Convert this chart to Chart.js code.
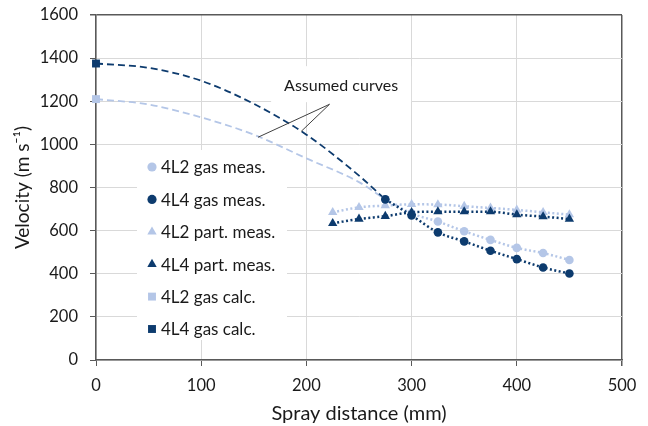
<!DOCTYPE html>
<html>
<head>
<meta charset="utf-8">
<script src="https://cdn.jsdelivr.net/npm/chart.js@4/dist/chart.umd.min.js"></script>
<style>
  html, body { margin: 0; padding: 0; background: #fff; }
  #wrap { width: 648px; height: 426px; }
</style>
</head>
<body>
<div id="wrap"><canvas id="chart" width="648" height="426"></canvas></div>
<script>
// spray distance (mm) and velocities (m/s)
var distCalc = [0];
var gasCalc4L2 = [1210];
var gasCalc4L4 = [1375];

var distAssumed = [0, 50, 100, 150, 200, 250, 275];
var assumed4L2 = [1210, 1185, 1125, 1045, 935, 825, 745];
var assumed4L4 = [1375, 1355, 1295, 1188, 1045, 855, 745];

var distGas = [275, 300, 325, 350, 375, 400, 425, 450];
var gasMeas4L2 = [745, 680, 642, 597, 557, 520, 496, 464];
var gasMeas4L4 = [745, 670, 592, 550, 507, 468, 429, 401];

var distPart = [225, 250, 275, 300, 325, 350, 375, 400, 425, 450];
var partMeas4L2 = [685, 708, 716, 722, 721, 713, 705, 696, 685, 674];
var partMeas4L4 = [634, 654, 667, 685, 688, 688, 688, 674, 665, 654];

var xTicks = [0, 100, 200, 300, 400, 500];
var yTicks = [0, 200, 400, 600, 800, 1000, 1200, 1400, 1600];

var light = '#B4C6E7',
    dark = '#0D3B6E',
    axisColor = '#595959',
    gridColor = '#D9D9D9',
    textColor = '#1a1a1a',
    fontFamily = 'Lato, "Open Sans", sans-serif';

function pts(xs, ys) {
    var out = [];
    for (var i = 0; i < xs.length; i++) out.push({ x: xs[i], y: ys[i] });
    return out;
}

function measSet(label, xs, ys, color, style, r, order) {
    return {
        label: label,
        data: pts(xs, ys),
        showLine: true,
        borderColor: color,
        backgroundColor: color,
        borderWidth: 2.5,
        borderDash: [2, 2.5],
        tension: 0.4,
        cubicInterpolationMode: 'monotone',
        pointStyle: style,
        pointRadius: r,
        pointBorderWidth: 0,
        pointBackgroundColor: color,
        clip: false,
        order: order,
        inLegend: true
    };
}

var datasets = [
    measSet('4L2 gas meas.', distGas, gasMeas4L2, light, 'circle', 4.3, 4),
    measSet('4L4 gas meas.', distGas, gasMeas4L4, dark, 'circle', 4.3, 0),
    measSet('4L2 part. meas.', distPart, partMeas4L2, light, 'triangle', 5.4, 3),
    measSet('4L4 part. meas.', distPart, partMeas4L4, dark, 'triangle', 5.4, 1),
    {
        label: '4L2 gas calc.', data: pts(distCalc, gasCalc4L2), showLine: false,
        pointStyle: 'rect', pointRadius: 5.6, pointBorderWidth: 0, clip: false,
        backgroundColor: light, borderColor: light, order: 5, inLegend: true
    },
    {
        label: '4L4 gas calc.', data: pts(distCalc, gasCalc4L4), showLine: false,
        pointStyle: 'rect', pointRadius: 5.6, pointBorderWidth: 0, clip: false,
        backgroundColor: dark, borderColor: dark, order: 5, inLegend: true
    },
    {
        label: 'assumed 4L2', data: pts(distAssumed, assumed4L2), showLine: true,
        borderColor: light, borderWidth: 1.8, borderDash: [7, 4], tension: 0.4,
        cubicInterpolationMode: 'monotone', pointRadius: 0, order: 10
    },
    {
        label: 'assumed 4L4', data: pts(distAssumed, assumed4L4), showLine: true,
        borderColor: dark, borderWidth: 1.8, borderDash: [7, 4], tension: 0.4,
        cubicInterpolationMode: 'monotone', pointRadius: 0, order: 9
    }
];

// legend inside the plot + "Assumed curves" callout
var insidePlugin = {
    id: 'insideLegend',
    beforeDatasetsDraw: function (chart) {
        var ctx = chart.ctx, a = chart.chartArea, xs = chart.scales.x, ys = chart.scales.y;
        ctx.save();
        ctx.fillStyle = '#fff';
        ctx.fillRect(a.left + 41, a.top + 135, 150, 190);
        var cx = xs.getPixelForValue(233), cy = ys.getPixelForValue(1270);
        ctx.fillRect(cx - 70, cy - 20, 140, 36);
        ctx.restore();
    },
    afterDatasetsDraw: function (chart) {
        var ctx = chart.ctx, a = chart.chartArea, xs = chart.scales.x, ys = chart.scales.y;
        ctx.save();
        var row = 0;
        chart.data.datasets.forEach(function (ds) {
            if (!ds.inLegend) return;
            var y = a.top + 152 + row * 32.4;
            ctx.fillStyle = ds.backgroundColor;
            var r = ds.pointStyle == 'rect' ? 5.6 : (ds.pointStyle == 'triangle' ? 5.4 : 4.6);
            Chart.helpers.drawPoint(ctx, { pointStyle: ds.pointStyle, rotation: 0, radius: r, borderWidth: 0 }, a.left + 56, y);
            ctx.fillStyle = textColor;
            ctx.font = '17px ' + fontFamily;
            ctx.textAlign = 'left';
            ctx.textBaseline = 'middle';
            ctx.fillText(ds.label, a.left + 65, y + 1);
            row++;
        });

        // callout
        var cx = xs.getPixelForValue(233), cy = ys.getPixelForValue(1270);
        ctx.fillStyle = textColor;
        ctx.font = '16px ' + fontFamily;
        ctx.textAlign = 'center';
        ctx.textBaseline = 'middle';
        ctx.fillText('Assumed curves', cx, cy);
        ctx.strokeStyle = '#404040';
        ctx.lineWidth = 1;
        ctx.beginPath();
        ctx.moveTo(xs.getPixelForValue(154), ys.getPixelForValue(1033));
        ctx.lineTo(xs.getPixelForValue(222), ys.getPixelForValue(1186));
        ctx.lineTo(xs.getPixelForValue(195), ys.getPixelForValue(1060));
        ctx.stroke();
        ctx.restore();
    }
};

new Chart(document.getElementById('chart'), {
    type: 'scatter',
    data: { datasets: datasets },
    plugins: [insidePlugin],
    options: {
        responsive: false,
        animation: false,
        devicePixelRatio: 1,
        layout: { padding: { top: 15, right: 26, left: 0, bottom: 0 } },
        plugins: {
            legend: { display: false },
            tooltip: { enabled: false }
        },
        scales: {
            x: {
                type: 'linear',
                min: 0,
                max: 500,
                afterBuildTicks: function (s) { s.ticks = xTicks.map(function (v) { return { value: v }; }); },
                afterFit: function (s) { s.height = 66; s.paddingLeft = 0; s.paddingRight = 0; },
                ticks: {
                    color: textColor, padding: 10, font: { family: fontFamily, size: 16.5 },
                    callback: function (v) { return String(v); }
                },
                grid: {
                    color: function (c) { return c.tick && c.tick.value === 500 ? axisColor : gridColor; },
                    lineWidth: function (c) { return c.tick && c.tick.value === 500 ? 1.5 : 1; },
                    tickColor: axisColor,
                    tickLength: 6
                },
                border: { color: axisColor, width: 1.5 },
                title: {
                    display: true,
                    text: 'Spray distance (mm)',
                    color: textColor,
                    font: { family: fontFamily, size: 20 },
                    padding: { top: 0, bottom: 0 }
                }
            },
            y: {
                type: 'linear',
                min: 0,
                max: 1600,
                afterBuildTicks: function (s) { s.ticks = yTicks.map(function (v) { return { value: v }; }); },
                afterFit: function (s) { s.width = 96; s.paddingTop = 0; s.paddingBottom = 0; },
                ticks: {
                    color: textColor, padding: 12, font: { family: fontFamily, size: 16.5 },
                    callback: function (v) { return String(v); }
                },
                grid: {
                    color: function (c) { return c.tick && c.tick.value === 1600 ? axisColor : gridColor; },
                    lineWidth: function (c) { return c.tick && c.tick.value === 1600 ? 1.5 : 1; },
                    tickColor: axisColor,
                    tickLength: 6
                },
                border: { color: axisColor, width: 1.5 },
                title: {
                    display: true,
                    text: 'Velocity (m s\u207B\u00B9)',
                    color: textColor,
                    font: { family: fontFamily, size: 19 },
                    padding: { top: 11, bottom: 0 }
                }
            }
        }
    }
});
</script>
</body>
</html>
